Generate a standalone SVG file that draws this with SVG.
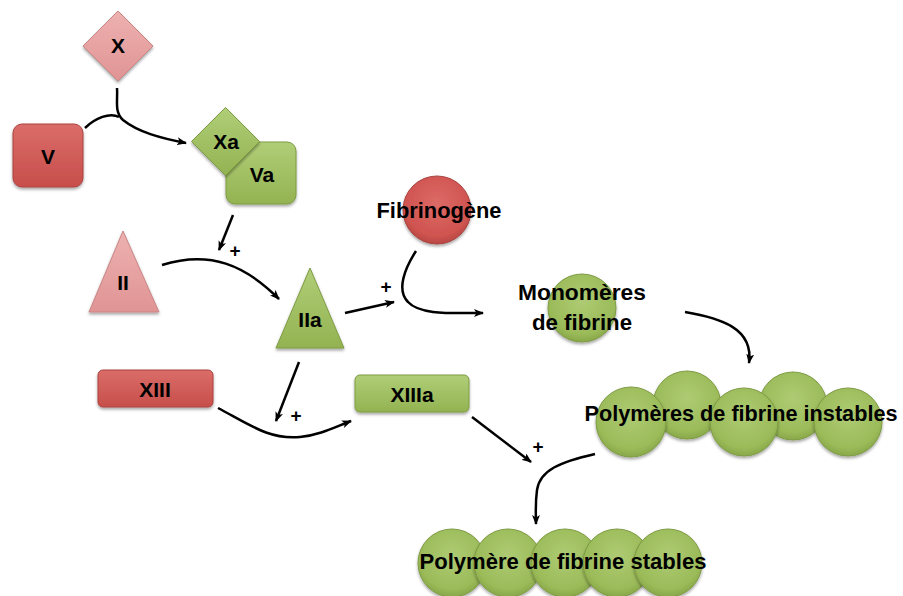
<svg xmlns="http://www.w3.org/2000/svg" width="903" height="596" viewBox="0 0 903 596">
<defs>
<linearGradient id="gRed" x1="0" y1="0" x2="0" y2="1"><stop offset="0" stop-color="#DA6D69"/><stop offset="1" stop-color="#C74E4A"/></linearGradient>
<linearGradient id="gPink" x1="0" y1="0" x2="0" y2="1"><stop offset="0" stop-color="#EDB1B0"/><stop offset="1" stop-color="#E09494"/></linearGradient>
<linearGradient id="gGreen" x1="0" y1="0" x2="0" y2="1"><stop offset="0" stop-color="#B0CE77"/><stop offset="1" stop-color="#93B352"/></linearGradient>
<radialGradient id="gGreenC" cx="0.5" cy="0.4" r="0.6"><stop offset="0" stop-color="#AECB73"/><stop offset="0.8" stop-color="#9BBB59"/><stop offset="1" stop-color="#88A84A"/></radialGradient>
<radialGradient id="gRedC" cx="0.5" cy="0.4" r="0.6"><stop offset="0" stop-color="#DC6A66"/><stop offset="0.8" stop-color="#D05450"/><stop offset="1" stop-color="#B84844"/></radialGradient>
<filter id="sh" x="-20%" y="-20%" width="140%" height="150%"><feDropShadow dx="0" dy="2" stdDeviation="1.5" flood-color="#000" flood-opacity="0.35"/></filter>
<marker id="ar" viewBox="0 0 10 8" refX="9" refY="4" markerWidth="10" markerHeight="8" markerUnits="userSpaceOnUse" orient="auto"><path d="M0,0 L10,4 L0,8 L2.5,4 z" fill="#000"/></marker>
</defs>
<style>
.t{font-family:"Liberation Sans",Arial,sans-serif;font-weight:bold;fill:#000;text-anchor:middle}
.l{font-size:22px}
.s{font-size:21px}
.p{font-size:19px}
.red{fill:url(#gRed);stroke:#A9433F;stroke-width:1}
.pink{fill:url(#gPink);stroke:#C98585;stroke-width:1}
.green{fill:url(#gGreen);stroke:#7E9B43;stroke-width:1}
.gc{fill:url(#gGreenC);stroke:#7E9B43;stroke-width:1}
.rc{fill:url(#gRedC);stroke:#A9433F;stroke-width:1}
.c{fill:none;stroke:#000;stroke-width:2.5}
</style>

<g id="connectors">
<path class="c" d="M117,88 C118,100 114,112 123,120 C138,132 160,138 186,143" marker-end="url(#ar)"/>
<path class="c" d="M85,128 C95,118 110,112 119,117"/>
<path class="c" d="M233,215 L219,250" marker-end="url(#ar)"/>
<path class="c" d="M162,265 C210,250 245,265 279,299" marker-end="url(#ar)"/>
<path class="c" d="M345,313 L394,302" marker-end="url(#ar)"/>
<path class="c" d="M416,251 C405,268 396,290 408,302 C420,315 450,313 483,313" marker-end="url(#ar)"/>
<path class="c" d="M685,312 C720,318 754,328 749,363" marker-end="url(#ar)"/>
<path class="c" d="M299,362 L276,421" marker-end="url(#ar)"/>
<path class="c" d="M218,408 C250,425 270,440 300,437 C320,435 335,427 351,421" marker-end="url(#ar)"/>
<path class="c" d="M472,417 L531,462" marker-end="url(#ar)"/>
<path class="c" d="M595,454 C560,462 540,470 537,490 C535,505 536,515 536,524" marker-end="url(#ar)"/>
<text class="t p" x="235" y="257">+</text>
<text class="t p" x="386" y="293">+</text>
<text class="t p" x="296" y="422">+</text>
<text class="t p" x="538" y="453">+</text>
</g>

<g id="node-X">
<polygon class="pink" filter="url(#sh)" points="118,11 153,46 118,81 83,46"/>
<text class="t s" x="118" y="53">X</text>
</g>
<g id="node-V">
<rect class="red" filter="url(#sh)" x="13" y="124" width="70" height="63" rx="9"/>
<text class="t s" x="48" y="164">V</text>
</g>
<g id="node-XaVa">
<rect class="green" filter="url(#sh)" x="226" y="142" width="70" height="62" rx="9"/>
<polygon class="green" filter="url(#sh)" points="225.5,107.5 259.5,141.5 225.5,175.5 191.5,141.5"/>
<text class="t s" x="226" y="149">Xa</text>
<text class="t s" x="262" y="182">Va</text>
</g>
<g id="node-II">
<polygon class="pink" filter="url(#sh)" points="123,231 159,312 89,312"/>
<text class="t s" x="123" y="290">II</text>
</g>
<g id="node-IIa">
<polygon class="green" filter="url(#sh)" points="310,268 344,348 276,348"/>
<text class="t s" x="310" y="327">IIa</text>
</g>
<g id="node-fibrinogene">
<circle class="rc" filter="url(#sh)" cx="437" cy="210" r="34"/>
<text class="t l" x="439" y="218" textLength="125" lengthAdjust="spacingAndGlyphs">Fibrinogène</text>
</g>
<g id="node-monomeres">
<circle class="gc" filter="url(#sh)" cx="582" cy="308" r="34"/>
<text class="t l" x="582" y="300" textLength="128" lengthAdjust="spacingAndGlyphs">Monomères</text>
<text class="t l" x="582" y="330" textLength="100" lengthAdjust="spacingAndGlyphs">de fibrine</text>
</g>
<g id="node-XIII">
<rect class="red" filter="url(#sh)" x="98" y="370" width="115" height="37" rx="5"/>
<text class="t s" x="155" y="397">XIII</text>
</g>
<g id="node-XIIIa">
<rect class="green" filter="url(#sh)" x="355" y="375" width="114" height="37" rx="5"/>
<text class="t s" x="412" y="402">XIIIa</text>
</g>
<g id="node-instables">
<circle class="gc" filter="url(#sh)" cx="687" cy="405" r="34"/>
<circle class="gc" filter="url(#sh)" cx="793" cy="406" r="34"/>
<circle class="gc" filter="url(#sh)" cx="631" cy="422" r="35"/>
<circle class="gc" filter="url(#sh)" cx="744" cy="422" r="34"/>
<circle class="gc" filter="url(#sh)" cx="848" cy="422" r="34"/>
<text class="t l" x="741" y="421" textLength="313" lengthAdjust="spacingAndGlyphs">Polymères de fibrine instables</text>
</g>
<g id="node-stables">
<circle class="gc" filter="url(#sh)" cx="452" cy="563" r="34"/>
<circle class="gc" filter="url(#sh)" cx="508" cy="563" r="34"/>
<circle class="gc" filter="url(#sh)" cx="565" cy="563" r="34"/>
<circle class="gc" filter="url(#sh)" cx="617" cy="563" r="34"/>
<circle class="gc" filter="url(#sh)" cx="668" cy="563" r="34"/>
<text class="t l" x="563" y="569" textLength="287" lengthAdjust="spacingAndGlyphs">Polymère de fibrine stables</text>
</g>
</svg>
